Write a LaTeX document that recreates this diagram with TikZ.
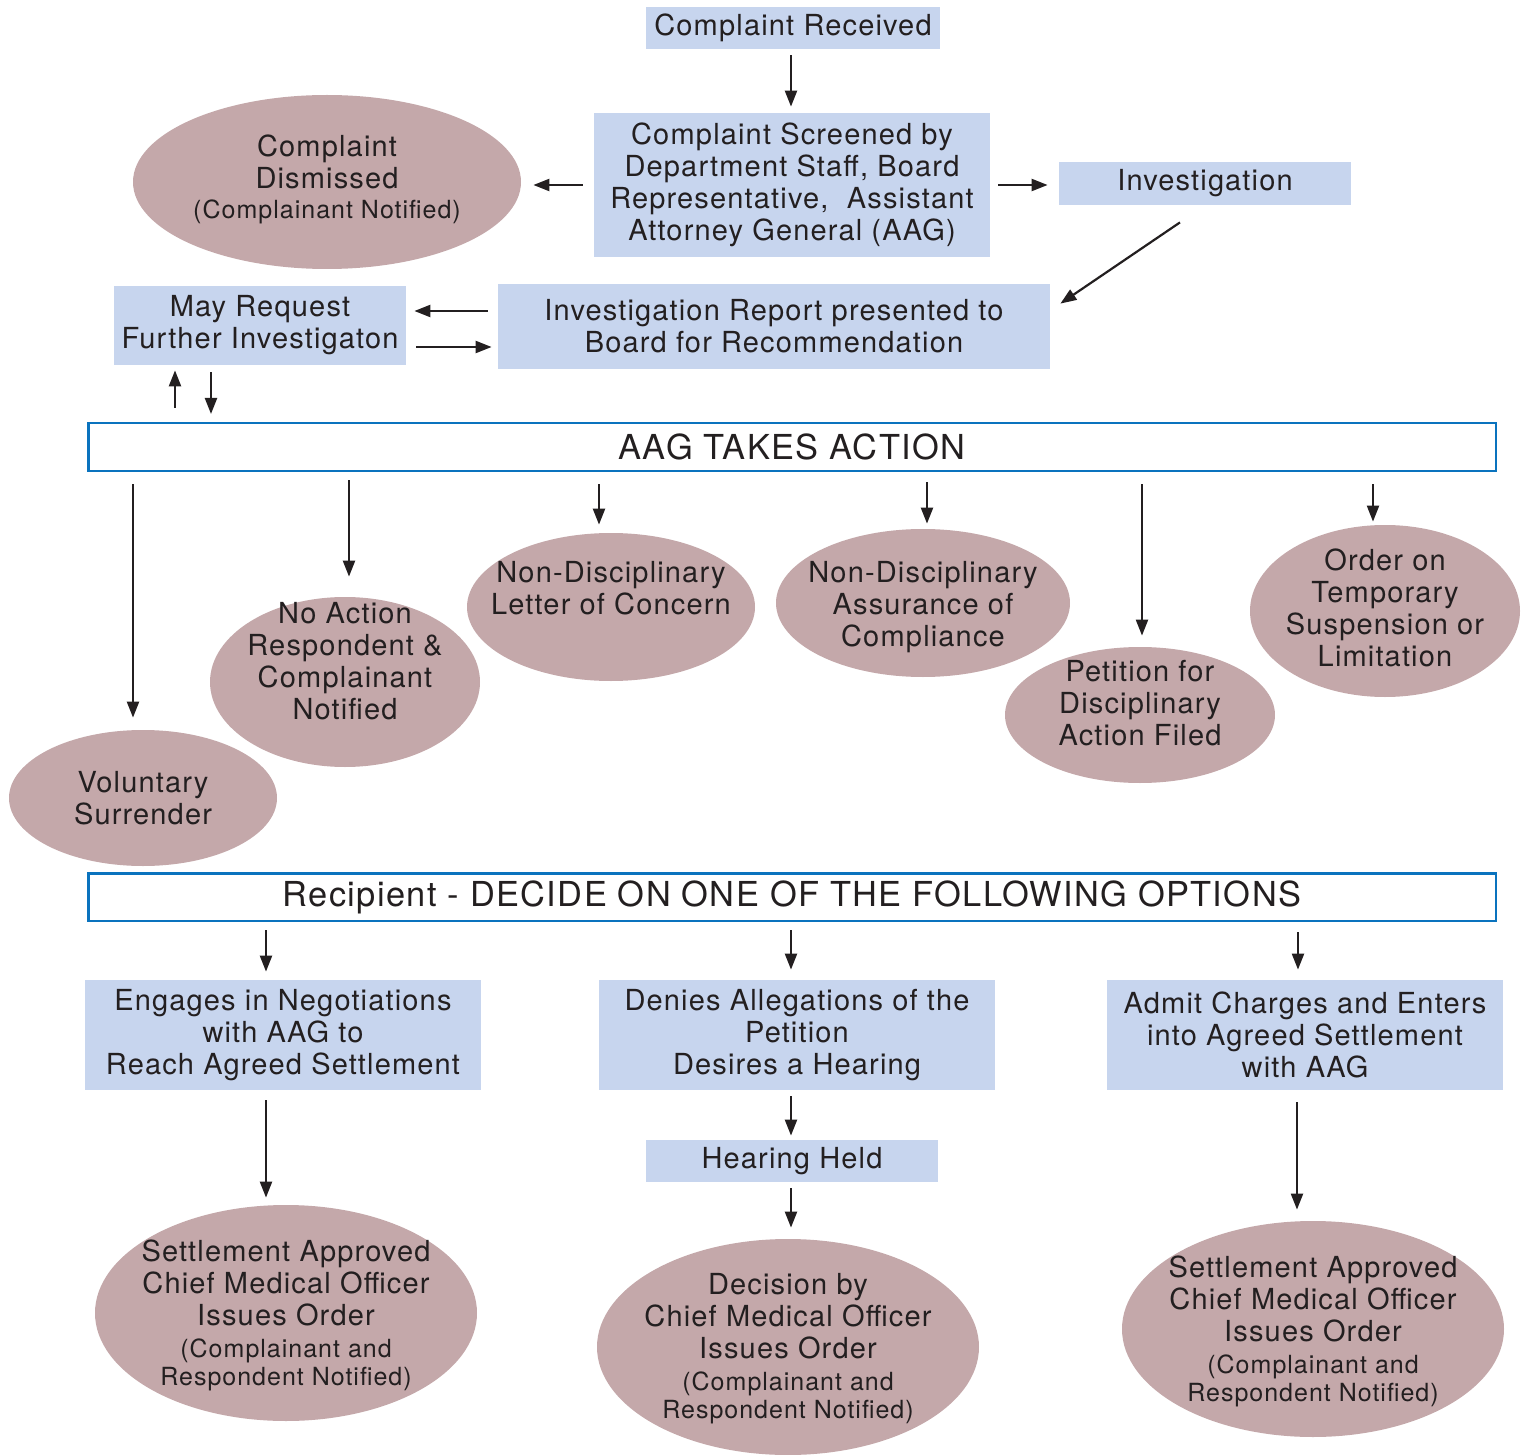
\documentclass[tikz,border=0pt]{standalone}
\usepackage{fontspec}
\setmainfont{TeX Gyre Heros}[LetterSpace=4]
\usetikzlibrary{shapes.geometric,arrows.meta}
\definecolor{boxblue}{HTML}{C7D5EE}
\definecolor{ovalrose}{HTML}{C4A8AA}
\definecolor{bannerblue}{HTML}{0A73BE}
\definecolor{inkgray}{HTML}{231F20}
\newcommand\notefont{\fontsize{12.5}{14}\selectfont}
\tikzset{
	stepbox/.style={fill=boxblue,text=inkgray,align=center,inner sep=0pt,font=\fontsize{14.5}{16}\selectfont},
	oval/.style={ellipse,fill=ovalrose,inner sep=0pt},
	lift/.style={text=inkgray,align=center,inner sep=0pt,font=\fontsize{14.5}{16}\selectfont,yshift=#1},
	lift/.default=0pt,
	banner/.style={draw=bannerblue,line width=1.25pt,fill=white,text=inkgray,minimum width=703.75pt,minimum height=23.75pt,inner sep=0pt,font=\fontsize{17.2}{19}\selectfont},
	arr/.style={-{Triangle[length=8pt,width=6pt]},line width=1.1pt,draw=inkgray},
}
\begin{document}
\begin{tikzpicture}[x=0.5pt,y=-0.5pt]
	\useasboundingbox (0,0) rectangle (1522,1455);
	\node[stepbox,minimum width=147pt,minimum height=21pt] (cr) at (793,28) {Complaint Received};
	\node[stepbox,minimum width=198pt,minimum height=72pt] (sc) at (792,185) {Complaint Screened by\\Department Staff, Board\\Representative,\ \ Assistant\\Attorney General (AAG)};
	\node[oval,minimum width=194pt,minimum height=87pt,label={[lift=1.5pt]center:{Complaint\\Dismissed\\[-1pt]{\notefont (Complainant Notified)}}}] (cd) at (327,182) {};
	\node[stepbox,minimum width=146pt,minimum height=21.5pt] (inv) at (1205,183.5) {Investigation};
	\node[stepbox,minimum width=276pt,minimum height=42.5pt] (rep) at (774,326.5) {Investigation Report presented to\\Board for Recommendation};
	\node[stepbox,minimum width=146pt,minimum height=39.5pt] (may) at (260,325.5) {May Request\\Further Investigaton};
	\node[banner] (aag) at (792,447) {AAG TAKES ACTION};
	\node[oval,minimum width=134pt,minimum height=68pt,label={[lift]center:{Voluntary\\Surrender}}] (vs) at (143,798) {};
	\node[oval,minimum width=135pt,minimum height=85pt,label={[lift=10.5pt]center:{No Action\\Respondent \&\\Complainant\\Notified}}] (na) at (345,682) {};
	\node[oval,minimum width=144pt,minimum height=74pt,label={[lift=9.5pt]center:{Non-Disciplinary\\Letter of Concern}}] (lc) at (611,607) {};
	\node[oval,minimum width=147pt,minimum height=74pt,label={[lift=-2pt]center:{Non-Disciplinary\\Assurance of\\Compliance}}] (ac) at (923,603) {};
	\node[oval,minimum width=135pt,minimum height=68pt,label={[lift=6pt]center:{Petition for\\Disciplinary\\Action Filed}}] (pf) at (1140,715) {};
	\node[oval,minimum width=135pt,minimum height=86pt,label={[lift=1.5pt]center:{Order on\\Temporary\\Suspension or\\Limitation}}] (ot) at (1385,611) {};
	\node[banner] (rc) at (792,897) {Recipient - DECIDE ON ONE OF THE FOLLOWING OPTIONS};
	\node[stepbox,minimum width=198pt,minimum height=55pt] (en) at (283,1035) {Engages in Negotiations\\with AAG to\\Reach Agreed Settlement};
	\node[stepbox,minimum width=198pt,minimum height=55pt] (dn) at (797,1035) {Denies Allegations of the\\Petition\\Desires a Hearing};
	\node[stepbox,minimum width=198pt,minimum height=55pt] (ad) at (1305,1035) {Admit Charges and Enters\\into Agreed Settlement\\with AAG};
	\node[stepbox,minimum width=146pt,minimum height=21pt] (hh) at (792,1161) {Hearing Held};
	\node[oval,minimum width=191pt,minimum height=108pt,label={[lift=-1pt]center:{Settlement Approved\\Chief Medical Officer\\Issues Order\\{\notefont (Complainant and}\\[-2pt]{\notefont Respondent Notified)}}}] (sl) at (286,1313) {};
	\node[oval,minimum width=191pt,minimum height=108pt,label={[lift=-1pt]center:{Decision by\\Chief Medical Officer\\Issues Order\\{\notefont (Complainant and}\\[-2pt]{\notefont Respondent Notified)}}}] (dc) at (788,1347) {};
	\node[oval,minimum width=191pt,minimum height=108pt,label={[lift=-1pt]center:{Settlement Approved\\Chief Medical Officer\\Issues Order\\{\notefont (Complainant and}\\[-2pt]{\notefont Respondent Notified)}}}] (sr) at (1313,1329) {};
	\draw[arr,shorten <=3pt,shorten >=3pt] ([xshift=-1pt]cr.south) -- ([xshift=-1pt]cr.south |- sc.north);
	\draw[arr,shorten <=5.5pt,shorten >=6pt] (sc.west) -- (cd.east |- sc.west);
	\draw[arr,shorten <=4pt,shorten >=5.5pt] (sc.east) -- (inv.west |- sc.east);
	\draw[arr] ([xshift=-12.5pt,yshift=-8.5pt]inv.south) -- ([xshift=5pt,yshift=-10pt]rep.north east);
	\draw[arr,shorten <=5pt,shorten >=4pt] ([yshift=7.75pt]rep.west) -- ([yshift=7.75pt]rep.west -| may.east);
	\draw[arr,shorten <=5pt,shorten >=3pt] ([yshift=-10.25pt]rep.west -| may.east) -- ([yshift=-10.25pt]rep.west);
	\draw[arr,shorten <=7pt,shorten >=2.5pt] ([xshift=-42.5pt]may.south |- aag.north) -- ([xshift=-42.5pt]may.south);
	\draw[arr,shorten <=3.5pt,shorten >=4pt] ([xshift=-24.5pt]may.south) -- ([xshift=-24.5pt]may.south |- aag.north);
	\draw[arr,shorten <=6pt] ([xshift=-5pt]vs.north |- aag.south) -- ([xshift=-5pt,yshift=6pt]vs.north);
	\draw[arr,shorten <=4pt] ([xshift=2pt]na.north |- aag.south) -- ([xshift=2pt,yshift=10pt]na.north);
	\draw[arr,shorten <=6pt] ([xshift=-6pt]lc.north |- aag.south) -- ([xshift=-6pt,yshift=4pt]lc.north);
	\draw[arr,shorten <=5pt] ([xshift=2pt]ac.north |- aag.south) -- ([xshift=2pt,yshift=2.5pt]ac.north);
	\draw[arr,shorten <=6pt] ([xshift=1pt]pf.north |- aag.south) -- ([xshift=1pt,yshift=5.5pt]pf.north);
	\draw[arr,shorten <=6pt] ([xshift=-6pt]ot.north |- aag.south) -- ([xshift=-6pt,yshift=1.5pt]ot.north);
	\draw[arr,shorten <=4pt,shorten >=4pt] ([xshift=-8.5pt]en.north |- rc.south) -- ([xshift=-8.5pt]en.north);
	\draw[arr,shorten <=4pt,shorten >=5pt] ([xshift=-3pt]dn.north |- rc.south) -- ([xshift=-3pt]dn.north);
	\draw[arr,shorten <=5pt,shorten >=5pt] ([xshift=-3.5pt]ad.north |- rc.south) -- ([xshift=-3.5pt]ad.north);
	\draw[arr,shorten <=5pt,shorten >=3.5pt] ([xshift=-8.5pt]en.south) -- ([xshift=-8.5pt]en.south |- sl.north);
	\draw[arr,shorten <=3pt,shorten >=2pt] ([xshift=-3pt]dn.south) -- ([xshift=-3pt]dn.south |- hh.north);
	\draw[arr,shorten <=3pt,shorten >=5.5pt] ([xshift=-0.5pt]hh.south) -- ([xshift=-0.5pt]hh.south |- dc.north);
	\draw[arr,shorten <=6pt,shorten >=5.5pt] ([xshift=-4pt]ad.south) -- ([xshift=-4pt]ad.south |- sr.north);
\end{tikzpicture}
\end{document}
